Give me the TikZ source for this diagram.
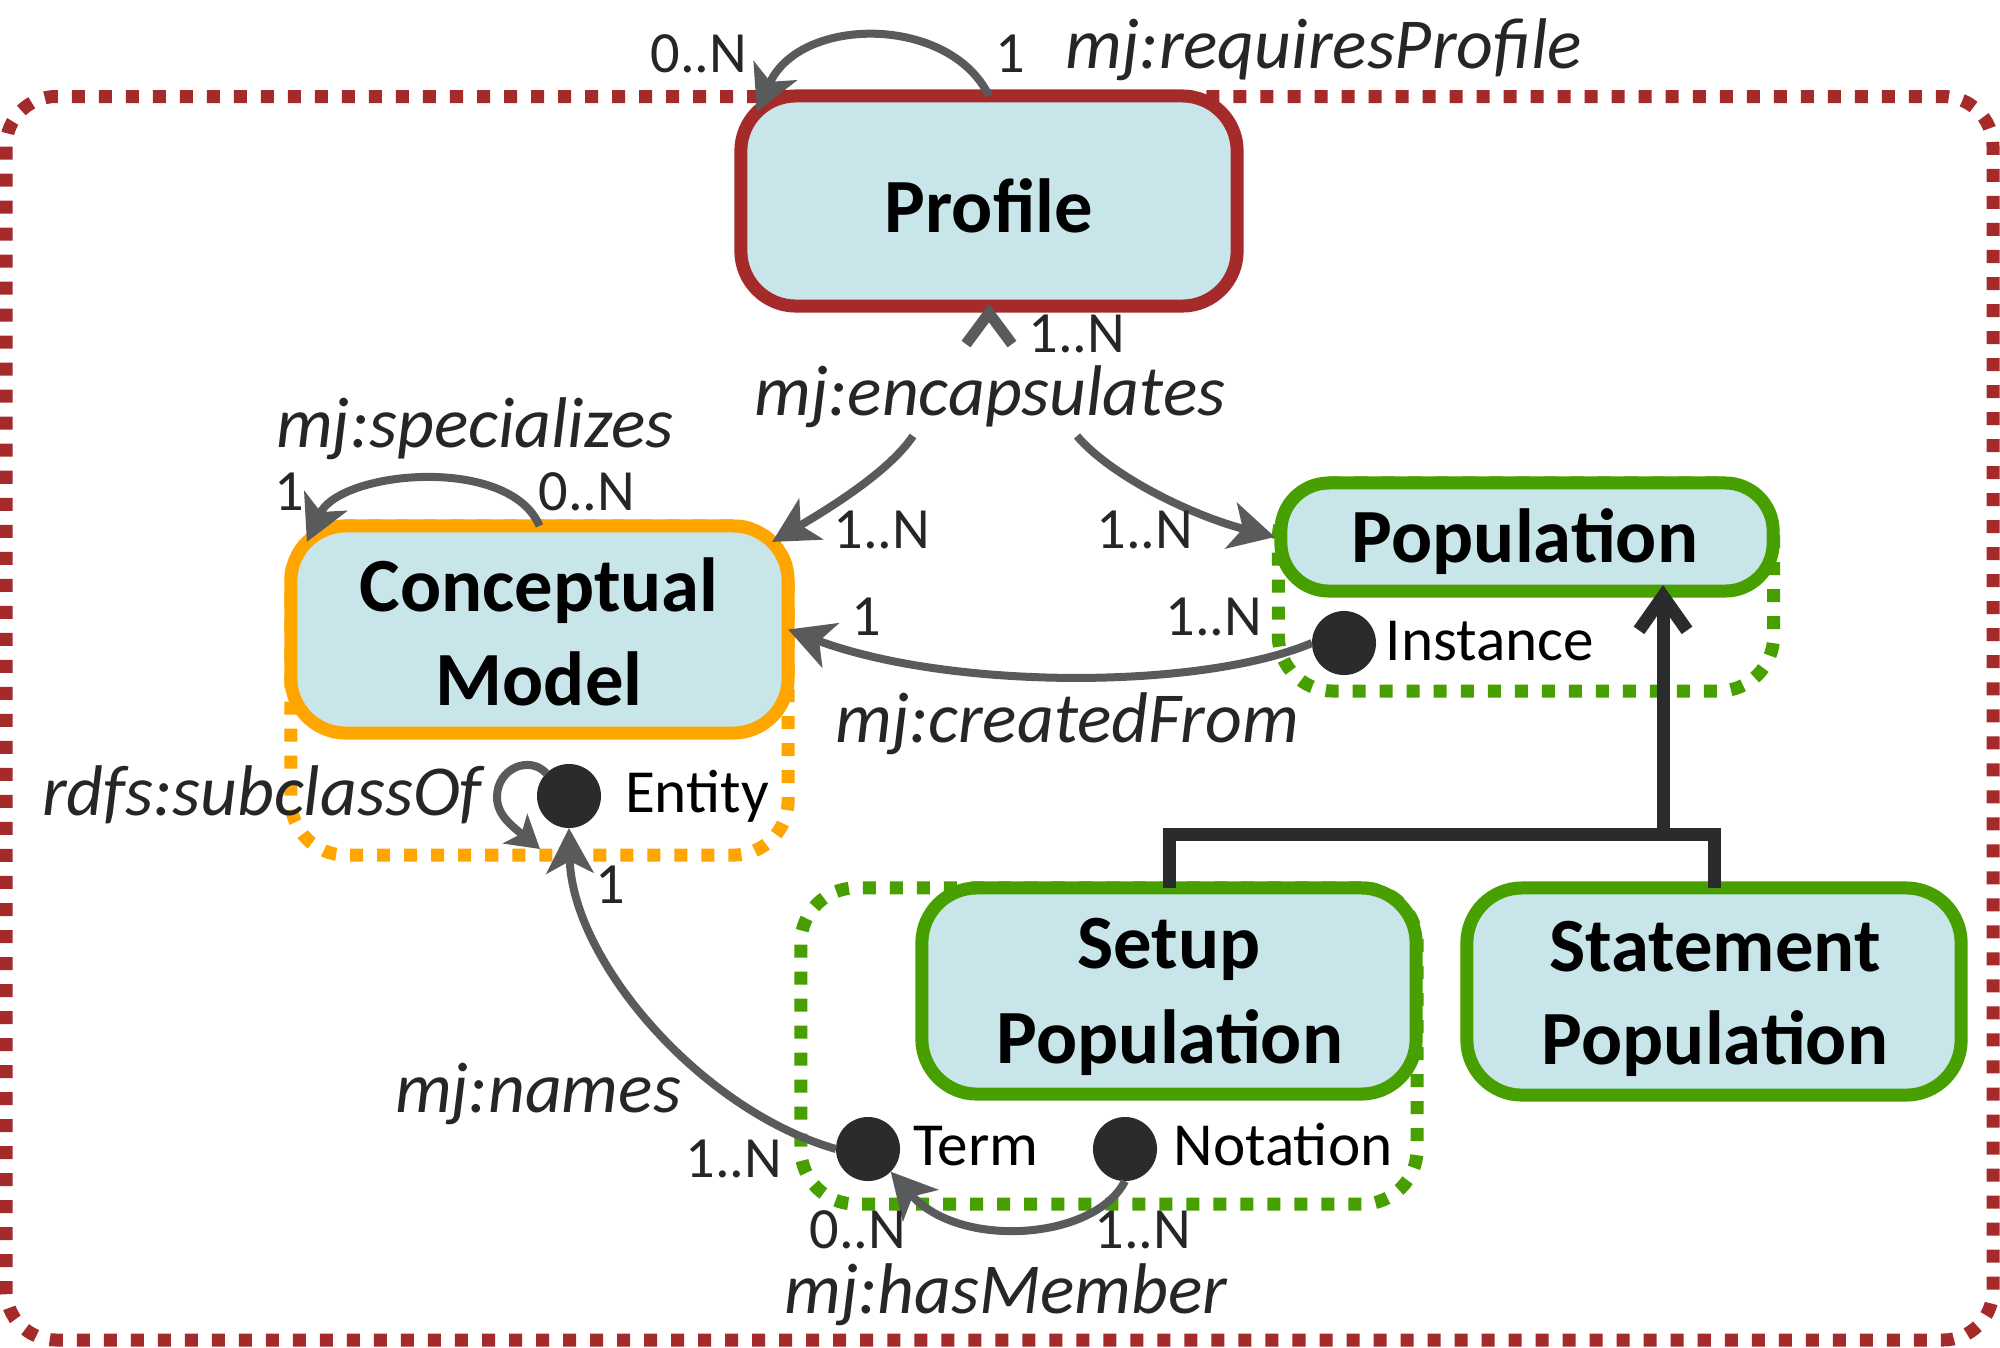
\documentclass[tikz,border=0pt]{standalone}
\usepackage{fontspec}
\setmainfont{Carlito}
\usetikzlibrary{arrows.meta,calc}
\definecolor{profred}{HTML}{A52A2A}
\definecolor{cmorange}{HTML}{FFA500}
\definecolor{popgreen}{HTML}{48A000}
\definecolor{boxfill}{HTML}{C8E6EA}
\definecolor{dotdark}{HTML}{2A2B2D}
\definecolor{arrowgrey}{HTML}{595A5C}
\definecolor{labelgrey}{HTML}{262626}
\tikzset{
  classbox/.style={rectangle, rounded corners=0.55cm, fill=boxfill, line width=0.13cm, inner sep=0pt, outer sep=0pt},
  groupbox/.style={rectangle, rounded corners=0.55cm, line width=0.13cm, dash pattern=on 0.13cm off 0.14cm, inner sep=0pt, outer sep=0pt},
  portdot/.style={circle, fill=dotdark, minimum size=0.64cm, inner sep=0pt, outer sep=0pt},
  titletext/.style={font=\bfseries\fontsize{21.8pt}{26pt}\selectfont, anchor=base, inner sep=0pt, text=black},
  reltext/.style={font=\itshape\fontsize{20.4pt}{24pt}\selectfont, anchor=base, inner sep=0pt, text=labelgrey},
  cardtext/.style={font=\fontsize{16.6pt}{19pt}\selectfont, anchor=base, inner sep=0pt, text=labelgrey},
  porttext/.style={font=\fontsize{17.4pt}{20pt}\selectfont, anchor=base, inner sep=0pt, text=black},
  relarrow/.style={draw=arrowgrey, line width=0.08cm, -{Stealth[length=0.45cm,width=0.47cm,inset=0.12cm]}},
  smallarrow/.style={draw=arrowgrey, line width=0.08cm, -{Stealth[length=0.32cm,width=0.38cm,inset=0.08cm]}},
  genline/.style={draw=dotdark, line width=0.13cm, line join=miter},
}
\begin{document}
\begin{tikzpicture}[x=0.01cm, y=-0.01cm]
\useasboundingbox (0,0) rectangle (2000,1347);
% outer frame
\draw[draw=profred, line width=0.13cm, dash pattern=on 0.13cm off 0.14cm, rounded corners=0.5cm] (6,96.5) rectangle (1993,1340);
% groups
\node[groupbox, draw=cmorange, minimum width=4.97cm, minimum height=3.29cm] (cmgroup) at (539.5,690.5) {};
\node[groupbox, draw=popgreen, minimum width=4.95cm, minimum height=2.08cm] (popgroup) at (1526,587) {};
\node[groupbox, draw=popgreen, minimum width=6.16cm, minimum height=3.16cm] (setupgroup) at (1109,1046) {};
% class boxes
\node[classbox, draw=profred, minimum width=4.96cm, minimum height=2.10cm] (profile) at (989,201) {};
\node[classbox, draw=cmorange, minimum width=4.97cm, minimum height=2.07cm] (cm) at (539.5,629.5) {};
\node[classbox, draw=popgreen, rounded corners=0.48cm, minimum width=4.92cm, minimum height=1.08cm] (pop) at (1527,537) {};
\node[classbox, draw=popgreen, minimum width=4.94cm, minimum height=2.06cm] (setup) at (1169,991) {};
\node[classbox, draw=popgreen, minimum width=4.94cm, minimum height=2.07cm] (statement) at (1714,991.5) {};
% titles
\node[titletext] (profile-t) at (989,232) {Profile};
\node[titletext] (cm-t1) at (539,611) {Conceptual};
\node[titletext] (cm-t2) at (539,705) {Model};
\node[titletext] (pop-t) at (1525,562) {Population};
\node[titletext] (setup-t1) at (1169,968) {Setup};
\node[titletext] (setup-t2) at (1170,1063) {Population};
\node[titletext] (stmt-t1) at (1715,971) {Statement};
\node[titletext] (stmt-t2) at (1715,1064) {Population};
% port dots
\node[portdot] (entity) at (569,796) {};
\node[portdot] (instance) at (1344,643) {};
\node[portdot] (term) at (868,1149) {};
\node[portdot] (notation) at (1125,1149) {};
\node[porttext] (entity-l) at (697,812) {Entity};
\node[porttext] (instance-l) at (1490,660) {Instance};
\node[porttext] (term-l) at (976,1165) {Term};
\node[porttext] (notation-l) at (1283,1165) {Notation};
% generalization
\coordinate (genjoin) at (1663,834);
\draw[genline] (setup.north) -- (setup.north |- genjoin) -- (statement.north |- genjoin) -- (statement.north);
\draw[genline, shorten >=-0.06cm, -{Straight Barb[length=0.34cm,width=0.48cm]}] (genjoin) -- (genjoin |- pop.south);
% relations
\draw[relarrow] (profile.north) .. controls (950,15) and (800,15) .. ($(profile.north west)+(16,16)$);
\draw[relarrow] (cm.north) .. controls (510,455) and (340,470) .. ($(cm.north west)+(16,16)$);
\coordinate (encL) at (913,436);
\coordinate (encR) at (1077,436);
\draw[relarrow] (encL) .. controls (890,470) and (835,505) .. ($(cm.north east)+(-16,16)$);
\draw[relarrow] (encR) .. controls (1110,475) and (1190,515) .. ($(pop.west)+(-6,0)$);
\draw[draw=arrowgrey, line width=0.11cm, line join=miter] ($(profile.south)+(-23,38)$) -- ($(profile.south)+(0,7)$) -- ($(profile.south)+(23,38)$);
\draw[relarrow] (instance.west) .. controls (1200,690) and (950,690) .. (cm.east);
\draw[relarrow] (term.west) .. controls (700,1110) and (572,960) .. (entity.south);
\draw[relarrow] (notation.south) .. controls (1095,1240) and (960,1250) .. (term.315);
\coordinate (rdfsend) at (540,849);
\draw[smallarrow] (entity.135) .. controls (530,755) and (497,768) .. (497,797) .. controls (497,815) and (512,826) .. (rdfsend);
% relation labels
\node[reltext] (l-req) at (1324,68) {mj:requiresProfile};
\node[reltext] (l-enc) at (990,415) {mj:encapsulates};
\node[reltext] (l-spec) at (475,447) {mj:specializes};
\node[reltext] (l-cre) at (1067,742) {mj:createdFrom};
\node[reltext] (l-sub) at (262,815) {rdfs:subclassOf};
\node[reltext] (l-names) at (538,1112) {mj:names};
\node[reltext] (l-has) at (1006,1313) {mj:hasMember};
% cardinalities
\node[cardtext] (c1) at (699,72) {0..N};
\node[cardtext] (c2) at (1010,72) {1};
\node[cardtext] (c3) at (1077,352) {1..N};
\node[cardtext] (c4) at (289,510) {1};
\node[cardtext] (c5) at (587,510) {0..N};
\node[cardtext] (c6) at (882,548) {1..N};
\node[cardtext] (c7) at (1145,548) {1..N};
\node[cardtext] (c8) at (866,635) {1};
\node[cardtext] (c9) at (1214,635) {1..N};
\node[cardtext] (c10) at (610,903) {1};
\node[cardtext] (c11) at (734,1177) {1..N};
\node[cardtext] (c12) at (858,1248) {0..N};
\node[cardtext] (c13) at (1143,1248) {1..N};
\end{tikzpicture}
\end{document}
